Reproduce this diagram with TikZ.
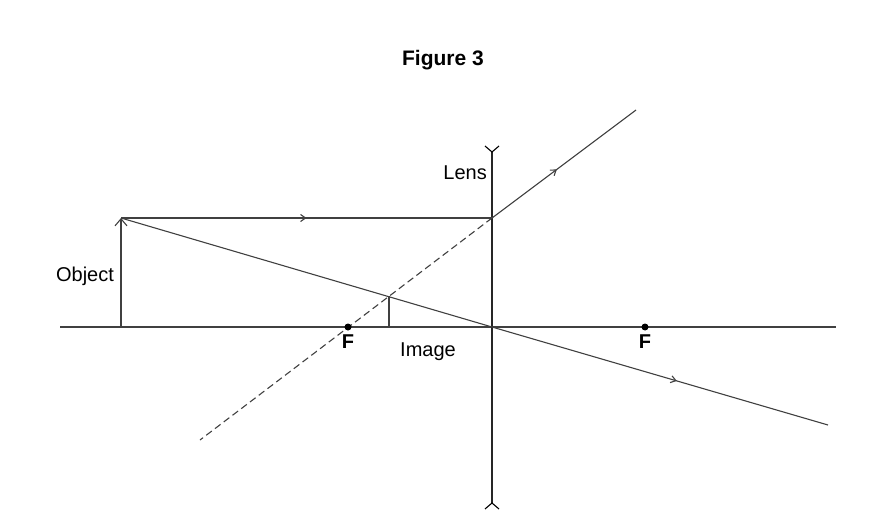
\documentclass[tikz,border=0pt]{standalone}
\usepackage{fontspec}
\setmainfont{Liberation Sans}
\usetikzlibrary{arrows.meta,decorations.markings}
\begin{document}
\begin{tikzpicture}[x=1pt,y=-1pt,
  ray/.style={line width=1.1pt,black!75},
  mark/.style={postaction={decorate},decoration={markings,mark=at position #1 with {\arrow{Straight Barb[length=5pt,width=7pt]}}}},
  lbl/.style={font=\fontsize{20}{24}\selectfont,inner sep=0pt},
  dot/.style={circle,fill=black,inner sep=0pt,minimum size=7pt}]
\useasboundingbox (0,0) rectangle (886,532);
\node[lbl,font=\fontsize{21}{24}\selectfont\bfseries] (title) at (443,60) {Figure 3};
\coordinate (axL) at (60,327); \coordinate (axR) at (836,327);
\draw[ray] (axL) -- (axR);
% lens
\coordinate (lt) at (492,152); \coordinate (lb) at (492,503);
\draw[line width=2pt,black!85] (lt) -- (lb);
\draw[line width=1.1pt] (485,146) -- (lt) -- (499,146);
\draw[line width=1.1pt] (485,509) -- (lb) -- (499,509);
\node[lbl,anchor=east] (lens) at (487,173) {Lens};
% object
\coordinate (ob) at (121,327); \coordinate (ot) at (121,218);
\draw[ray,-{Straight Barb[length=7pt,width=12pt]}] (ob) -- (ot);
\node[lbl] (objl) at (85,276) {Object};
% rays
\coordinate (lp) at (492,218); \coordinate (c) at (492,327);
\coordinate (r1) at (636,110); \coordinate (d1) at (200,440); \coordinate (r2) at (828,425);
\draw[ray,mark=0.5] (ot) -- (lp);
\draw[ray,mark=0.45] (lp) -- (r1);
\draw[ray,dashed,dash pattern=on 7pt off 4pt] (lp) -- (d1);
\draw[ray] (ot) -- (c);
\draw[ray,mark=0.55] (c) -- (r2);
% image
\coordinate (ib) at (389,327); \coordinate (it) at (389,296);
\draw[ray] (ib) -- (it);
\node[lbl] (imgl) at (428,352) {Image};
% foci
\node[dot] (f1) at (348,327) {};
\node[dot] (f2) at (645,327) {};
\node[lbl,font=\fontsize{20}{24}\selectfont\bfseries,anchor=north] at (348,335) {F};
\node[lbl,font=\fontsize{20}{24}\selectfont\bfseries,anchor=north] at (645,335) {F};
\end{tikzpicture}
\end{document}
